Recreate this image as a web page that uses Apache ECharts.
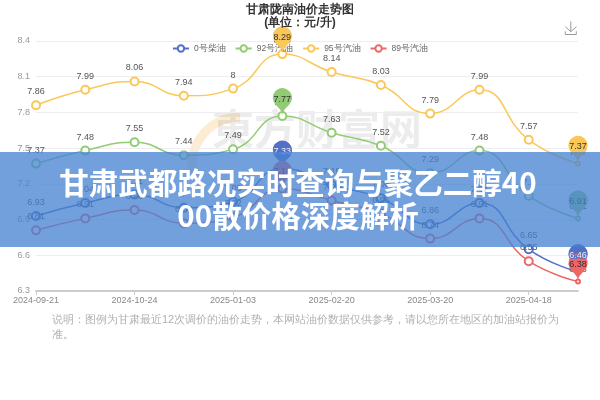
<!DOCTYPE html>
<html>
<head>
<meta charset="utf-8">
<script src="https://cdn.jsdelivr.net/npm/echarts@6/dist/echarts.min.js"></script>
<style>
html,body{margin:0;padding:0;background:#fff;}
#main{width:600px;height:400px;}
</style>
</head>
<body>
<div id="main"></div>
<script>
var dates = ['2024-09-21','2024-10-11','2024-10-24','2024-11-21','2025-01-03','2025-01-17','2025-02-20','2025-03-06','2025-03-20','2025-04-03','2025-04-18','2025-05-07'];
var diesel0 = [6.93, 7.04, 7.11, 7.00, 7.05, 7.33, 7.19, 7.08, 6.86, 7.04, 6.65, 6.46];
var gas92 = [7.37, 7.48, 7.55, 7.44, 7.49, 7.77, 7.63, 7.52, 7.29, 7.48, 7.10, 6.91];
var gas95 = [7.86, 7.99, 8.06, 7.94, 8.00, 8.29, 8.14, 8.03, 7.79, 7.99, 7.57, 7.37];
var gas89 = [6.81, 6.91, 6.98, 6.87, 6.92, 7.16, 7.06, 6.95, 6.74, 6.91, 6.55, 6.38];
var seriesNames = ['0号柴油', '92号汽油', '95号汽油', '89号汽油'];
var colors = ['#5470c6', '#91cc75', '#fac858', '#ee6666'];
var yTicks = {min: 6.3, max: 8.4, interval: 0.3};
var titleText = '甘肃陇南油价走势图\n(单位：元/升)';
var noteText = '说明：图例为甘肃最近12次调价的油价走势，本网站油价数据仅供参考，请以您所在地区的加油站报价为\n准。';
var bannerText = '甘肃武都路况实时查询与聚乙二醇40\n00散价格深度解析';
var watermarkText = '東方财富网';

var chart = echarts.init(document.getElementById('main'), null, {renderer: 'canvas'});

function mkSeries(name, data, idx) {
  return {
    name: name,
    type: 'line',
    data: data,
    smooth: true,
    symbol: 'emptyCircle',
    symbolSize: function (v, p) { return p.dataIndex === data.length - 1 ? 4 : 8; },
    lineStyle: {width: 1.5},
    label: {show: true, position: 'top', fontSize: 9, color: '#555', distance: 4},
    markPoint: {
      symbol: 'pin',
      symbolSize: 32,
      label: {fontSize: 9},
      data: [{type: 'max', name: '最高'}, {type: 'min', name: '最低'}]
    }
  };
}

var option = {
  color: colors,
  animation: false,
  title: [{
    text: titleText,
    left: 'center',
    top: -2,
    textStyle: {fontSize: 12, fontWeight: 'bold', color: '#333', lineHeight: 13}
  }, {
    text: noteText,
    left: 47,
    top: 307,
    textStyle: {fontSize: 11, fontWeight: 'normal', color: '#b0b0b0', lineHeight: 15}
  }],
  toolbox: {
    right: 6,
    top: 4,
    itemSize: 13,
    iconStyle: {borderColor: '#999'},
    feature: {saveAsImage: {title: ''}}
  },
  legend: {
    data: seriesNames,
    top: 39,
    left: 'center',
    itemWidth: 16,
    itemHeight: 8,
    itemGap: 9,
    textStyle: {fontSize: 8.5, color: '#666'}
  },
  grid: {left: 36, right: 22, top: 41, bottom: 109, containLabel: false},
  xAxis: {
    type: 'category',
    data: dates,
    boundaryGap: false,
    axisLine: {lineStyle: {color: '#ccc', width: 2}},
    axisTick: {show: true, interval: 1, length: 4, lineStyle: {color: '#ccc'}},
    axisLabel: {interval: 1, color: '#888', fontSize: 9, margin: 5}
  },
  yAxis: {
    type: 'value',
    min: yTicks.min,
    max: yTicks.max,
    interval: yTicks.interval,
    axisLine: {show: false},
    axisTick: {show: false},
    axisLabel: {color: '#999', fontSize: 9, margin: 6},
    splitLine: {lineStyle: {color: '#eee'}}
  },
  graphic: [
    {
      type: 'arc',
      z: 0,
      silent: true,
      shape: {cx: 240, cy: 165, r: 48, startAngle: Math.PI * 0.95, endAngle: Math.PI * 1.5},
      style: {fill: null, stroke: 'rgba(245,170,60,0.22)', lineWidth: 9}
    },
    {
      type: 'text',
      z: 0,
      silent: true,
      left: 212,
      top: 108,
      style: {text: watermarkText, fontSize: 42, fontWeight: 'bold', fill: 'rgba(0,0,0,0.075)', fontFamily: 'Noto Sans CJK SC'}
    },
    {
      type: 'rect',
      z: 100,
      silent: true,
      shape: {x: 0, y: 152, width: 600, height: 95},
      style: {fill: 'rgba(70,130,210,0.76)'}
    },
    {
      type: 'text',
      z: 101,
      silent: true,
      x: 298,
      y: 199,
      style: {
        text: bannerText,
        fill: '#fff',
        fontSize: 29.5,
        fontWeight: 'bold',
        fontFamily: 'Noto Sans CJK SC',
        lineHeight: 33,
        align: 'center',
        verticalAlign: 'middle'
      }
    }
  ],
  series: [
    mkSeries(seriesNames[0], diesel0, 0),
    mkSeries(seriesNames[1], gas92, 1),
    mkSeries(seriesNames[2], gas95, 2),
    mkSeries(seriesNames[3], gas89, 3)
  ]
};
chart.setOption(option);
</script>
</body>
</html>
